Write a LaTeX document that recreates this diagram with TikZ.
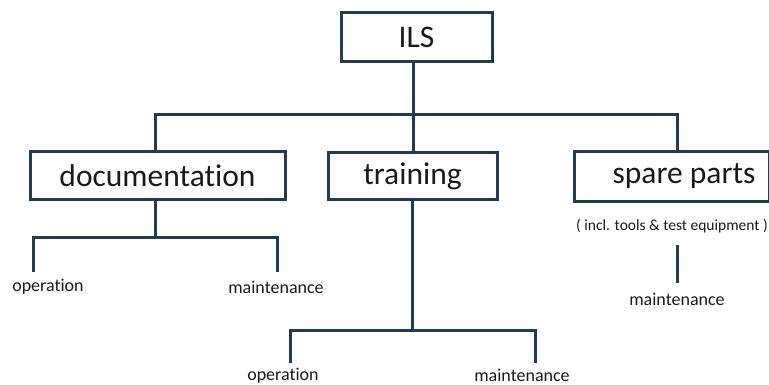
\documentclass[tikz,border=0pt]{standalone}
\usepackage{fontspec}
\setmainfont{Carlito}[Ligatures=NoCommon]
\definecolor{navy}{HTML}{1F3A5F}
\definecolor{txt}{HTML}{1A1A1A}
\begin{document}
\begin{tikzpicture}[x=1pt,y=-1pt,
  box/.style={draw=navy,line width=3pt,fill=white,inner sep=0pt,text=txt,font=\fontsize{31.5}{33}\selectfont},
  lab/.style={text=txt,inner sep=0pt,font=\fontsize{18}{20}\selectfont},
  conn/.style={draw=navy,line width=3pt}]
\useasboundingbox (0,0) rectangle (769,385);
% boxes
\node[box,minimum width=151pt,minimum height=49pt] (ils) at (416.5,37.5) {ILS};
\node[box,minimum width=255pt,minimum height=48pt] (doc) at (157.5,176) {documentation};
\node[box,minimum width=169pt,minimum height=47pt] (tra) at (412.5,176.5) {training};
\node[box,minimum width=195pt,minimum height=50pt,anchor=west] (spa) at (573,177) {};
\node[text=txt,inner sep=0pt,font=\fontsize{31.5}{33}\selectfont] (spat) at (684,176) {spare parts};
\node[lab,font=\fontsize{15.5}{17}\selectfont] (incl) at (672,226) {( incl. tools \& test equipment )};
% coordinates
\coordinate (j0) at (413,115);
\coordinate (d1) at (33,237);
\coordinate (d2) at (277,237);
\coordinate (t1) at (290,330);
\coordinate (t2) at (535,330);
\coordinate (s1) at (677,245);
\coordinate (s2) at (677,283);
% labels
\node[lab] (dop) at (48,287) {operation};
\node[lab] (dma) at (276,287) {maintenance};
\node[lab] (top) at (283,375.5) {operation};
\node[lab] (tma) at (522,375.5) {maintenance};
\node[lab] (sma) at (677,299) {maintenance};
% connectors
\draw[conn] (ils.south -| j0) -- (j0);
\draw[conn] (doc.north -| 155,0) |- (j0) -| (spa.north -| 677,0);
\draw[conn] (j0) -- (tra.north -| j0);
\draw[conn] (doc.south -| 155,0) -- (155,237);
\draw[conn] (33,272) -- (d1) -- (d2) -- (277,272);
\draw[conn] (tra.south -| 412,0) -- (412,330);
\draw[conn] (290,363) -- (t1) -- (t2) -- (535,363);
\draw[conn] (s1) -- (s2);
\end{tikzpicture}
\end{document}
